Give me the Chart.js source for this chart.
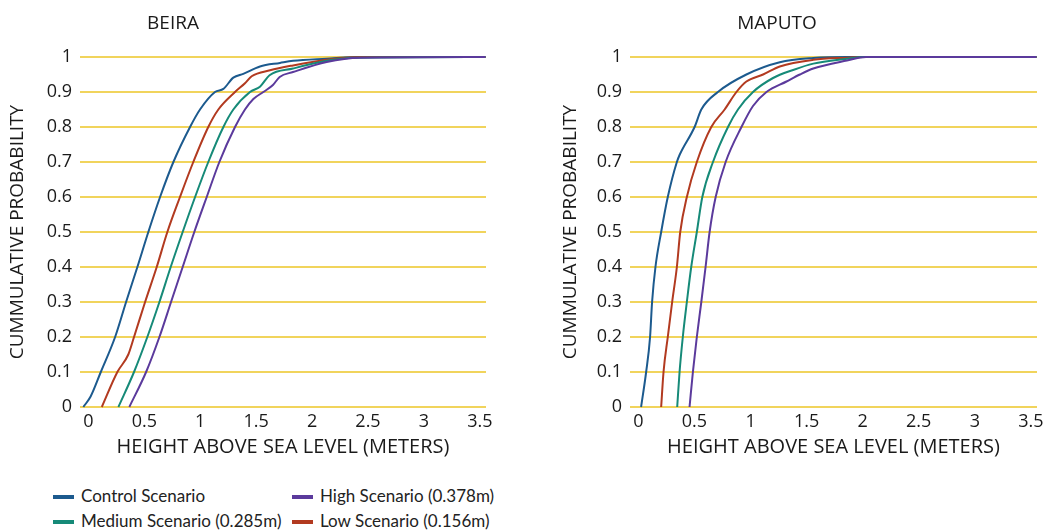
<!DOCTYPE html>
<html>
<head>
<meta charset="utf-8">
<script src="https://cdn.jsdelivr.net/npm/chart.js@4"></script>
<style>
  html, body { margin: 0; padding: 0; background: #ffffff; }
  body { width: 1048px; height: 532px; position: relative; overflow: hidden; font-family: Lato, "Open Sans", sans-serif; }
  .box { position: absolute; top: 0; height: 470px; }
  #boxL { left: 0; width: 500px; }
  #boxR { left: 553px; width: 495px; }
  .legend { position: absolute; font-size: 17px; color: #222; white-space: nowrap; }
  .legend span.sw { display: inline-block; width: 21px; height: 4px; vertical-align: middle; margin-right: 7px; position: relative; top: -1px; }
</style>
</head>
<body>
<div class="box" id="boxL"><canvas id="cL"></canvas></div>
<div class="box" id="boxR"><canvas id="cR"></canvas></div>

<div class="legend" id="lg0" style="left:53px; top:485px;"></div>
<div class="legend" id="lg1" style="left:292px; top:485px;"></div>
<div class="legend" id="lg2" style="left:53px; top:510px;"></div>
<div class="legend" id="lg3" style="left:292px; top:510px;"></div>

<script>
// ---- Data ----
const titles = ["BEIRA", "MAPUTO"];
const seriesNames = ["Control Scenario", "High Scenario (0.378m)", "Medium Scenario (0.285m)", "Low Scenario (0.156m)"];
const xTicks = [0, 0.5, 1, 1.5, 2, 2.5, 3, 3.5];
const yTicks = [0, 0.1, 0.2, 0.3, 0.4, 0.5, 0.6, 0.7, 0.8, 0.9, 1];
const xTitle = "HEIGHT ABOVE SEA LEVEL (METERS)";
const yTitle = "CUMMULATIVE PROBABILITY";

// BEIRA
const beiraControlX = [-0.045, 0.02, 0.111, 0.239, 0.337, 0.438, 0.536, 0.641, 0.760, 0.909, 0.998, 1.132, 1.207, 1.296, 1.385, 1.534, 1.713, 1.83, 2.13, 2.43, 3.55];
const beiraControlY = [0, 0.03, 0.1, 0.2, 0.3, 0.4, 0.5, 0.6, 0.7, 0.8, 0.85, 0.9, 0.909, 0.941, 0.952, 0.973, 0.983, 0.989, 0.995, 1.0, 1.0];
const beiraLowX = [0.120, 0.259, 0.357, 0.408, 0.507, 0.611, 0.706, 0.819, 0.938, 1.072, 1.162, 1.311, 1.400, 1.46, 1.624, 1.83, 2.13, 2.43, 3.55];
const beiraLowY = [0, 0.1, 0.15, 0.2, 0.3, 0.4, 0.5, 0.6, 0.7, 0.8, 0.85, 0.9, 0.925, 0.945, 0.962, 0.976, 0.992, 1.0, 1.0];
const beiraMedX = [0.268, 0.408, 0.527, 0.635, 0.736, 0.843, 0.954, 1.072, 1.207, 1.296, 1.445, 1.534, 1.62, 1.83, 2.13, 2.38, 3.55];
const beiraMedY = [0, 0.1, 0.2, 0.3, 0.4, 0.5, 0.6, 0.7, 0.8, 0.85, 0.9, 0.915, 0.948, 0.967, 0.989, 0.998, 1.0];
const beiraHighX = [0.366, 0.516, 0.635, 0.739, 0.843, 0.947, 1.058, 1.171, 1.311, 1.400, 1.475, 1.564, 1.65, 1.71, 1.83, 2.13, 2.43, 3.55];
const beiraHighY = [0, 0.1, 0.2, 0.3, 0.4, 0.5, 0.6, 0.7, 0.8, 0.85, 0.88, 0.9, 0.92, 0.943, 0.957, 0.986, 0.998, 1.0];

// MAPUTO
const maputoControlX = [0.024, 0.069, 0.104, 0.122, 0.152, 0.203, 0.262, 0.343, 0.367, 0.501, 0.561, 0.709, 0.963, 1.261, 1.56, 1.86, 3.55];
const maputoControlY = [0, 0.1, 0.2, 0.3, 0.4, 0.5, 0.6, 0.7, 0.72, 0.8, 0.85, 0.9, 0.95, 0.985, 0.997, 1.0, 1.0];
const maputoLowX = [0.203, 0.224, 0.262, 0.301, 0.343, 0.373, 0.432, 0.521, 0.650, 0.769, 0.874, 0.963, 1.112, 1.261, 1.56, 1.86, 2.0, 3.55];
const maputoLowY = [0, 0.1, 0.2, 0.3, 0.4, 0.5, 0.6, 0.7, 0.8, 0.85, 0.9, 0.93, 0.95, 0.973, 0.992, 0.998, 1.0, 1.0];
const maputoMedX = [0.346, 0.367, 0.396, 0.432, 0.471, 0.521, 0.570, 0.665, 0.799, 0.888, 1.022, 1.201, 1.38, 1.56, 1.86, 2.0, 3.55];
const maputoMedY = [0, 0.1, 0.2, 0.3, 0.4, 0.5, 0.6, 0.7, 0.8, 0.85, 0.9, 0.94, 0.963, 0.981, 0.995, 1.0, 1.0];
const maputoHighX = [0.456, 0.486, 0.521, 0.561, 0.599, 0.635, 0.689, 0.778, 0.919, 1.022, 1.142, 1.321, 1.44, 1.56, 1.86, 2.03, 3.55];
const maputoHighY = [0, 0.1, 0.2, 0.3, 0.4, 0.5, 0.6, 0.7, 0.8, 0.86, 0.9, 0.93, 0.95, 0.967, 0.990, 1.0, 1.0];

// ---- Styles ----
const colors = ["#1c5a8e", "#5b3a9c", "#168a78", "#b23a20"];
const gridColor = "#f1d45c";
const fontFamily = "'Open Sans', Lato, sans-serif";
const textColor = "#1a1a1a";

function pts(xs, ys) { return xs.map((x, i) => ({ x: x, y: ys[i] })); }

// legend (HTML text)
[0, 1, 2, 3].forEach((s, i) => {
  const el = document.getElementById("lg" + i);
  el.innerHTML = '<span class="sw" style="background:' + colors[s] + '"></span>' + seriesNames[s];
});

function makeChart(canvasId, title, seriesXY, yWidth, padRight, titleX) {
  const datasets = seriesXY.map((s, i) => ({
    label: seriesNames[i],
    data: pts(s[0], s[1]),
    borderColor: colors[i],
    backgroundColor: colors[i],
    borderWidth: 2,
    pointRadius: 0,
    cubicInterpolationMode: "monotone",
    fill: false,
    clip: false
  }));
  const ordered = [datasets[1], datasets[2], datasets[3], datasets[0]];
  const titlePlugin = {
    id: "fixedTitle",
    afterDraw(chart) {
      const ctx = chart.ctx;
      ctx.save();
      ctx.font = "19px " + fontFamily;
      ctx.fillStyle = textColor;
      ctx.textAlign = "center";
      ctx.textBaseline = "middle";
      ctx.fillText(title, titleX, 24);
      ctx.restore();
    }
  };
  return new Chart(document.getElementById(canvasId), {
    type: "line",
    data: { datasets: ordered },
    options: {
      responsive: true,
      maintainAspectRatio: false,
      animation: false,
      layout: { padding: { top: 57, right: padRight, bottom: 0, left: 0 } },
      plugins: { legend: { display: false }, tooltip: { enabled: false } },
      scales: {
        x: {
          type: "linear",
          min: -0.075,
          max: 3.555,
          afterBuildTicks(scale) { scale.ticks = xTicks.map(v => ({ value: v })); },
          afterFit(scale) { scale.height = 63; },
          grid: { display: false, drawTicks: false },
          border: { display: false },
          ticks: { color: textColor, font: { size: 18, family: fontFamily }, padding: 4, maxRotation: 0, autoSkip: false,
                   callback: v => String(v) },
          title: { display: true, text: xTitle, color: textColor, font: { size: 20, family: fontFamily }, padding: { top: 0, bottom: 11 } }
        },
        y: {
          type: "linear",
          min: 0,
          max: 1,
          afterBuildTicks(scale) { scale.ticks = yTicks.map(v => ({ value: v })); },
          afterFit(scale) { scale.width = yWidth; },
          grid: { color: gridColor, lineWidth: 2, drawTicks: false },
          border: { display: false },
          ticks: { color: textColor, font: { size: 18, family: fontFamily }, padding: 8, autoSkip: false,
                   callback: v => String(v) },
          title: { display: true, text: yTitle, color: textColor, font: { size: 19, family: fontFamily }, padding: { top: 6, bottom: 0 } }
        }
      }
    },
    plugins: [titlePlugin]
  });
}

makeChart("cL", titles[0], [
  [beiraControlX, beiraControlY],
  [beiraHighX, beiraHighY],
  [beiraMedX, beiraMedY],
  [beiraLowX, beiraLowY]
], 80, 14, 173);

makeChart("cR", titles[1], [
  [maputoControlX, maputoControlY],
  [maputoHighX, maputoHighY],
  [maputoMedX, maputoMedY],
  [maputoLowX, maputoLowY]
], 77, 11, 777 - 553);
</script>
</body>
</html>
